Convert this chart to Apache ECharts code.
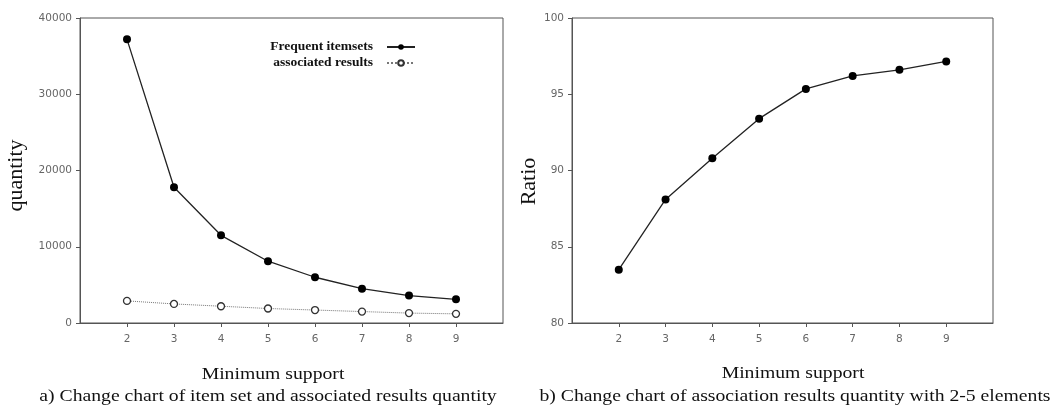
<!DOCTYPE html>
<html>
<head>
<meta charset="utf-8">
<script src="https://cdn.jsdelivr.net/npm/echarts@6/dist/echarts.min.js"></script>
<style>
    html, body { margin: 0; padding: 0; background: #fff; }
    #chart { width: 1059px; height: 406px; }
</style>
</head>
<body>
<div id="chart"></div>
<script>
let supportValues = [2, 3, 4, 5, 6, 7, 8, 9];
let frequentItemsets = [37200, 17800, 11500, 8100, 6000, 4500, 3600, 3100];
let associatedResults = [2900, 2500, 2200, 1900, 1700, 1500, 1300, 1200];
let ratioValues = [83.5, 88.1, 90.8, 93.4, 95.35, 96.2, 96.6, 97.15];

let serif = "'Liberation Serif', 'DejaVu Serif', serif";
let sans = "'DejaVu Sans', sans-serif";

function pairs(values) {
    return supportValues.map((x, i) => [x, values[i]]);
}

function xAxisFor(gridIndex) {
    return {
        type: "value",
        gridIndex: gridIndex,
        min: 1,
        max: 10,
        axisLine: { lineStyle: { color: "#555", width: 1 } },
        axisTick: { length: 4, lineStyle: { color: "#555" }, customValues: supportValues },
        axisLabel: { fontFamily: sans, fontSize: 10.5, color: "#666", margin: 11, customValues: supportValues },
        splitLine: { show: false }
    };
}

function yAxisFor(gridIndex, name, min, max, interval, nameGap, namePadding) {
    return {
        type: "value",
        gridIndex: gridIndex,
        min: min,
        max: max,
        interval: interval,
        name: name,
        nameLocation: "middle",
        nameGap: nameGap,
        nameTextStyle: { fontFamily: serif, fontSize: 22, color: "#111", padding: namePadding },
        axisLine: { show: true, lineStyle: { color: "#555", width: 1 } },
        axisTick: { show: true, length: 4, lineStyle: { color: "#555" } },
        axisLabel: { fontFamily: sans, fontSize: 10.5, color: "#666", margin: 8, formatter: value => String(value) },
        splitLine: { show: false }
    };
}

function caption(text, x, y) {
    return {
        type: "text",
        x: x,
        y: y,
        scaleX: 1.23,
        style: {
            text: text,
            align: "center",
            verticalAlign: "middle",
            font: "16px " + serif,
            fill: "#111"
        }
    };
}

let chart = echarts.init(document.getElementById("chart"));
let option = {
    animation: false,
    backgroundColor: "#fff",
    graphic: [
        caption("Minimum support", 273, 375),
        caption("a) Change chart of item set and associated results quantity", 268, 397),
        caption("Minimum support", 793, 374),
        caption("b) Change chart of association results quantity with 2-5 elements", 795, 397)
    ],
    legend: {
        orient: "vertical",
        right: 638,
        top: 35,
        align: "right",
        itemWidth: 28,
        itemHeight: 7,
        itemGap: 2,
        textStyle: { fontFamily: serif, fontSize: 13.5, lineHeight: 14, fontWeight: "bold", color: "#111", padding: [0, 9, 0, 0] },
        data: ["Frequent itemsets", "associated results"]
    },
    grid: [
        { left: 80, right: 556, top: 18, bottom: 83, show: true, borderColor: "#555", borderWidth: 1 },
        { left: 572, right: 66, top: 18, bottom: 83, show: true, borderColor: "#555", borderWidth: 1 }
    ],
    xAxis: [xAxisFor(0), xAxisFor(1)],
    yAxis: [
        yAxisFor(0, "quantity", 0, 40000, 10000, 53, [0, 10, 0, 0]),
        yAxisFor(1, "Ratio", 80, 100, 5, 30, [0, 22, 0, 0])
    ],
    series: [
        {
            name: "Frequent itemsets",
            type: "line",
            xAxisIndex: 0,
            yAxisIndex: 0,
            data: pairs(frequentItemsets),
            symbol: "circle",
            symbolSize: 8,
            itemStyle: { color: "#000" },
            lineStyle: { color: "#222", width: 1.3 }
        },
        {
            name: "associated results",
            type: "line",
            xAxisIndex: 0,
            yAxisIndex: 0,
            data: pairs(associatedResults),
            symbol: "circle",
            symbolSize: 7,
            itemStyle: { color: "#fff", borderColor: "#333", borderWidth: 1.3 },
            lineStyle: { color: "#777", width: 1, type: "dotted" }
        },
        {
            name: "Ratio",
            type: "line",
            xAxisIndex: 1,
            yAxisIndex: 1,
            data: pairs(ratioValues),
            symbol: "circle",
            symbolSize: 8,
            itemStyle: { color: "#000" },
            lineStyle: { color: "#222", width: 1.3 }
        }
    ]
};
chart.setOption(option);
</script>
</body>
</html>
